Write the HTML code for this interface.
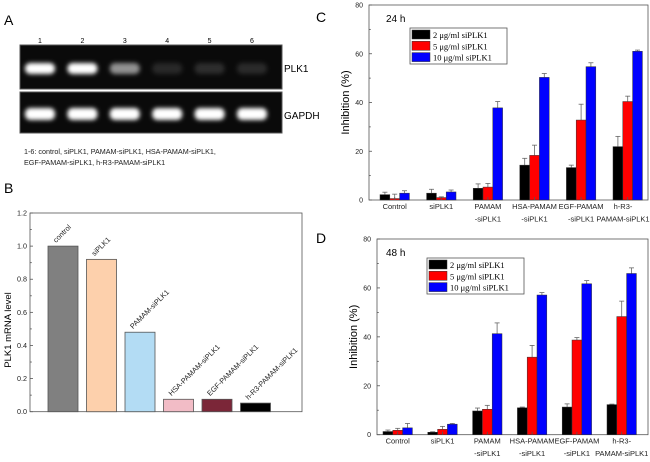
<!DOCTYPE html>
<html><head><meta charset="utf-8">
<style>
html,body{margin:0;padding:0;background:#fff;}
body{width:650px;height:457px;overflow:hidden;font-family:"Liberation Sans",Arial,sans-serif;}
svg text{font-family:"Liberation Sans",Arial,sans-serif;}
.ser{font-family:"Liberation Serif","Times New Roman",serif !important;}
</style></head>
<body>
<svg id="fig" width="650" height="457" viewBox="0 0 650 457" xmlns="http://www.w3.org/2000/svg">
<defs>
<filter id="blur" x="-50%" y="-100%" width="200%" height="300%"><feGaussianBlur stdDeviation="2.2"/></filter>
</defs>
<g id="panelA">
<text x="4" y="25" font-size="14">A</text>
<rect x="20" y="45" width="262" height="44" fill="#0a0a0a" stroke="#555" stroke-width="1"/>
<rect x="20" y="92" width="262" height="41" fill="#0a0a0a" stroke="#555" stroke-width="1"/>
<text x="284" y="72" font-size="10">PLK1</text>
<text x="284" y="119" font-size="10">GAPDH</text>
<text x="24" y="154" font-size="7.2" fill="#222">1-6: control, siPLK1, PAMAM-siPLK1, HSA-PAMAM-siPLK1,</text>
<text x="24" y="165" font-size="7.2" fill="#222">EGF-PAMAM-siPLK1, h-R3-PAMAM-siPLK1</text>
</g>
<g id="panelB"></g>
<g id="panelC"></g>
<g id="panelD"></g>
</svg>
<script>
const NS='http://www.w3.org/2000/svg';
function mk(parent,tag,attrs,txt){const e=document.createElementNS(NS,tag);for(const k in attrs)e.setAttribute(k,attrs[k]);if(txt!==undefined)e.textContent=txt;parent.appendChild(e);return e;}

// Gel data
const laneNumbers=['1','2','3','4','5','6'];
const plk1Intensity=[1.0,1.0,0.55,0.12,0.14,0.13];
const gapdhIntensity=[1.0,1.0,1.0,1.0,1.0,1.0];

// Panel B data
const bCategories=['control','siPLK1','PAMAM-siPLK1','HSA-PAMAM-siPLK1','EGF-PAMAM-siPLK1','h-R3-PAMAM-siPLK1'];
const bValues=[1.0,0.92,0.48,0.075,0.075,0.052];
const bColors=['#808080','#fdd0ac','#b3dcf4','#f2bcc6','#7b2638','#000000'];
const bTicks=['0.0','0.2','0.4','0.6','0.8','1.0','1.2'];

// Panels C/D data
const cdCategories=[['Control'],['siPLK1'],['PAMAM','-siPLK1'],['HSA-PAMAM','-siPLK1'],['EGF-PAMAM','-siPLK1'],['h-R3-','PAMAM-siPLK1']];
const yTicksCD=['0','20','40','60','80'];
const seriesNames=['2 \u03bcg/ml siPLK1','5 \u03bcg/ml siPLK1','10 \u03bcg/ml siPLK1'];
const c24Black=[2.2,2.8,4.8,14.3,13.3,21.9];
const c24BlackErr=[1.0,1.6,1.8,2.8,1.0,4.2];
const c24Red=[0.6,1.0,5.3,18.3,32.8,40.4];
const c24RedErr=[1.8,0.3,1.5,4.2,6.5,2.2];
const c24Blue=[2.8,3.3,37.8,50.3,54.7,61.0];
const c24BlueErr=[1.0,0.8,2.6,1.6,1.6,0.5];
const d48Black=[1.3,1.0,9.7,11.0,11.3,12.3];
const d48BlackErr=[0.6,0.2,1.2,0.3,1.3,0.2];
const d48Red=[1.8,2.2,10.4,31.7,38.7,48.3];
const d48RedErr=[0.8,1.2,1.6,4.8,1.0,6.3];
const d48Blue=[2.8,4.3,41.3,57.1,61.7,65.9];
const d48BlueErr=[1.8,0.3,4.4,1.0,1.3,2.3];

// ---- Gel bands
const A=document.getElementById('panelA');
const laneX=i=>40+i*42.4;
laneNumbers.forEach((n,i)=>{
  const t=mk(A,'text',{x:laneX(i),y:43,'font-size':7,'text-anchor':'middle'},n);
  
  
  const b1=mk(A,'rect',{x:laneX(i)-15,y:63,width:30,height:11,rx:5,fill:'#fff','fill-opacity':plk1Intensity[i],filter:'url(#blur)'});
  
  
  const b2=mk(A,'rect',{x:laneX(i)-15,y:108,width:30,height:12,rx:5,fill:'#fff','fill-opacity':gapdhIntensity[i],filter:'url(#blur)'});
  
  
});

// ---- Panel B
(function(){
  const G=document.getElementById('panelB');
  const x0=30,x1=302,yTop=213,yBot=411.7;
  const y=v=>yBot-(v/1.2)*(yBot-yTop);
  const lab=mk(G,'text',{x:4,y:193,'font-size':14},'B');
  
  
  const frame=mk(G,'rect',{x:x0,y:yTop,width:x1-x0,height:yBot-yTop,fill:'none',stroke:'#555','stroke-width':0.8});
  
  
  bTicks.forEach(t=>{
    const v=parseFloat(t);
    const l=mk(G,'line',{x1:x0,x2:x0+3,y1:y(v),y2:y(v),stroke:'#555','stroke-width':0.8});
    
    
    if(v<1.15){
      const m=mk(G,'line',{x1:x0,x2:x0+1.8,y1:y(v+0.1),y2:y(v+0.1),stroke:'#555','stroke-width':0.8});
      
      
    }
    const tx=mk(G,'text',{x:x0-3,y:y(v)+2.5,'font-size':7.2,'text-anchor':'end',fill:'#222'},t);
    
    
  });
  const yl=mk(G,'text',{x:0,y:0,'font-size':9.5,'text-anchor':'middle',transform:'translate(11,330) rotate(-90)'},'PLK1 mRNA level');
  
  
  bCategories.forEach((c,i)=>{
    const bx=48+i*38.5;
    const r=mk(G,'rect',{x:bx,y:y(bValues[i]),width:30,height:yBot-y(bValues[i]),fill:bColors[i],stroke:'#555','stroke-width':0.8});
    
    
    const t=mk(G,'text',{x:0,y:0,'font-size':7.3,fill:'#222',transform:`translate(${bx+8},${y(bValues[i])-3}) rotate(-45)`},c);
    
    
  });
})();

// ---- Panels C / D
function drawCD(id,letter,letterY,timeLabel,axisX,yTop,yBot,gx0,gStep,legX,legY,series,errs){
  const G=document.getElementById(id);
  const x1=648;
  const y=v=>yBot-(v/80)*(yBot-yTop);
  const lab=mk(G,'text',{x:316,y:letterY,'font-size':14},letter);
  
  
  const frame=mk(G,'rect',{x:axisX,y:yTop,width:x1-axisX,height:yBot-yTop,fill:'none',stroke:'#555','stroke-width':0.8});
  
  
  yTicksCD.forEach(t=>{
    const v=parseFloat(t);
    const l=mk(G,'line',{x1:axisX,x2:axisX+3,y1:y(v),y2:y(v),stroke:'#555','stroke-width':0.8});
    
    
    if(v<80){const m=mk(G,'line',{x1:axisX,x2:axisX+1.8,y1:y(v+10),y2:y(v+10),stroke:'#555','stroke-width':0.8});
    
    }
    const tx=mk(G,'text',{x:axisX-6,y:y(v)+2.5,'font-size':7,'text-anchor':'end',fill:'#222'},t);
    
    
  });
  const yl=mk(G,'text',{x:0,y:0,'font-size':11,'text-anchor':'middle',transform:`translate(${axisX-20},${(yTop+yBot)/2}) rotate(-90)`},'Inhibition (%)');
  
  
  const tl=mk(G,'text',{x:386,y:yTop+17,'font-size':10},timeLabel);
  
  
  const colors=['#000','#f00','#00f'];
  const bw=9.8;
  cdCategories.forEach((c,i)=>{
    const gx=gx0+i*gStep;
    series.forEach((s,k)=>{
      const bx=gx+k*bw, top=y(s[i]);
      const e=mk(G,'line',{x1:bx+bw/2,x2:bx+bw/2,y1:top,y2:y(s[i]+errs[k][i]),stroke:'#666','stroke-width':0.8});
      
      
      const ec=mk(G,'line',{x1:bx+bw/2-2.5,x2:bx+bw/2+2.5,y1:y(s[i]+errs[k][i]),y2:y(s[i]+errs[k][i]),stroke:'#666','stroke-width':0.8});
      
      
      const r=mk(G,'rect',{x:bx,y:top,width:bw,height:yBot-top,fill:colors[k],stroke:'#333','stroke-width':0.5});
      
      
    });
    const cx=gx+1.5*bw;
    const tk=mk(G,'line',{x1:cx,x2:cx,y1:yBot,y2:yBot-3,stroke:'#555','stroke-width':0.8});
    
    
    c.forEach((line,j)=>{
      const t=mk(G,'text',{x:Math.min(cx,623),y:yBot+9+j*12.5,'font-size':7.5,'text-anchor':'middle',fill:'#222'},line);
      
      
    });
  });
  const lg=mk(G,'rect',{x:legX,y:legY,width:97,height:36,fill:'#fff',stroke:'#555','stroke-width':0.8});
  
  
  seriesNames.forEach((n,k)=>{
    const sw=mk(G,'rect',{x:legX+2,y:legY+2+k*11.3,width:18,height:9,fill:colors[k],stroke:'#333','stroke-width':0.5});
    
    
    const t=mk(G,'text',{x:legX+23,y:legY+10+k*11.3,'font-size':8.5,'class':'ser'},n);
    
    
  });
}
drawCD('panelC','C',22,'24 h',369,5,200,380,46.6,410,28,[c24Black,c24Red,c24Blue],[c24BlackErr,c24RedErr,c24BlueErr]);
drawCD('panelD','D',243,'48 h',377,239,434.7,383,44.8,427,258,[d48Black,d48Red,d48Blue],[d48BlackErr,d48RedErr,d48BlueErr]);
</script>
</body></html>
